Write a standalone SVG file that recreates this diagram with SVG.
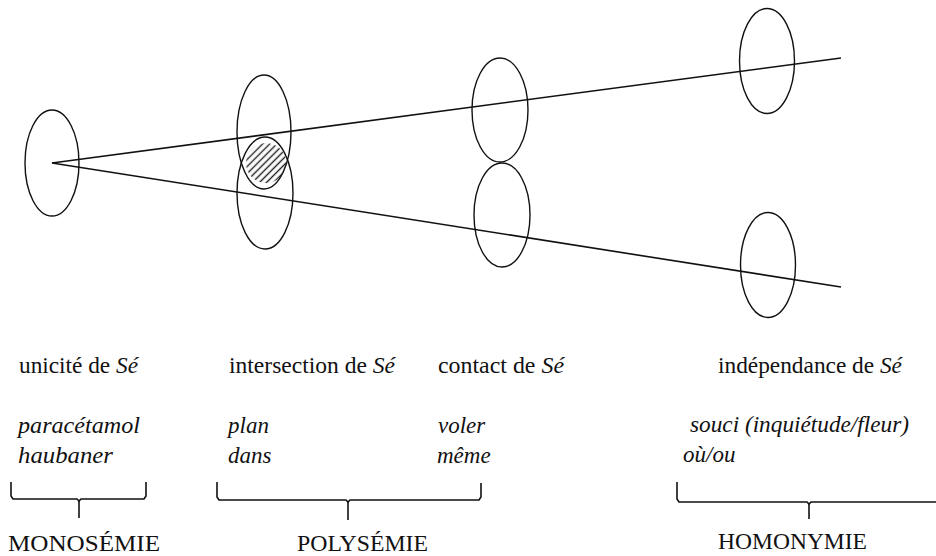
<svg xmlns="http://www.w3.org/2000/svg" width="936" height="556" viewBox="0 0 936 556">
  <style>
    .sense { fill: none; stroke: #111; stroke-width: 1.4; }
    .ray { fill: none; stroke: #111; stroke-width: 1.6; }
    .brace { fill: none; stroke: #111; stroke-width: 1.6; stroke-linejoin: miter; }
    text { font-family: "Liberation Serif", "Times New Roman", serif; font-size: 23px; fill: #111; }
    .ex { font-style: italic; }
  </style>
  <defs>
    <pattern id="hatch" width="5" height="5" patternUnits="userSpaceOnUse" patternTransform="rotate(-45)">
      <line x1="0" y1="2.5" x2="5" y2="2.5" stroke="#222" stroke-width="1.4"/>
    </pattern>
  </defs>

  <rect width="936" height="556" fill="#fff"/>

  <!-- the two meaning axes diverging from the single sense -->
  <g id="connectors">
    <line class="ray" x1="52" y1="163" x2="841" y2="58"/>
    <line class="ray" x1="52" y1="163" x2="841" y2="287"/>
  </g>

  <!-- monosemy: one sense -->
  <g id="mono-sense">
    <ellipse class="sense" cx="52" cy="163" rx="27" ry="53"/>
  </g>

  <!-- polysemy: two overlapping senses with shared zone -->
  <g id="poly-sense-a">
    <ellipse class="sense" cx="264" cy="132" rx="27" ry="57"/>
  </g>
  <g id="poly-sense-b">
    <ellipse class="sense" cx="265" cy="193" rx="28" ry="56"/>
  </g>
  <g id="poly-overlap">
    <circle cx="266" cy="163" r="20" fill="url(#hatch)"/>
  </g>

  <!-- contact: two touching senses -->
  <g id="contact-sense-a">
    <ellipse class="sense" cx="500" cy="110" rx="28" ry="52"/>
  </g>
  <g id="contact-sense-b">
    <ellipse class="sense" cx="502" cy="215" rx="28" ry="52"/>
  </g>

  <!-- homonymy: two separate senses -->
  <g id="homo-sense-a">
    <ellipse class="sense" cx="767" cy="61" rx="27.5" ry="52.5"/>
  </g>
  <g id="homo-sense-b">
    <ellipse class="sense" cx="768" cy="265" rx="27.5" ry="52.5"/>
  </g>

  <!-- column headings -->
  <g id="headings">
    <text x="19" y="373" textLength="119" lengthAdjust="spacingAndGlyphs">unicité de <tspan class="ex">Sé</tspan></text>
    <text x="229" y="373" textLength="166" lengthAdjust="spacingAndGlyphs">intersection de <tspan class="ex">Sé</tspan></text>
    <text x="438" y="373" textLength="126" lengthAdjust="spacingAndGlyphs">contact  de <tspan class="ex">Sé</tspan></text>
    <text x="718" y="373" textLength="184" lengthAdjust="spacingAndGlyphs">indépendance de <tspan class="ex">Sé</tspan></text>
  </g>

  <!-- examples -->
  <g id="examples">
    <text class="ex" x="18" y="433" textLength="122" lengthAdjust="spacingAndGlyphs">paracétamol</text>
    <text class="ex" x="18" y="463" textLength="95" lengthAdjust="spacingAndGlyphs">haubaner</text>
    <text class="ex" x="228" y="433">plan</text>
    <text class="ex" x="228" y="463">dans</text>
    <text class="ex" x="438" y="433">voler</text>
    <text class="ex" x="437" y="463">même</text>
    <text class="ex" x="690" y="432" textLength="219" lengthAdjust="spacingAndGlyphs">souci (inquiétude/fleur)</text>
    <text class="ex" x="683" y="462">où/ou</text>
  </g>

  <!-- grouping braces -->
  <g id="brace-mono">
    <path class="brace" d="M11 482 V496 L13 499 H77 L79 501 L81 499 H144 L146 496 V482"/>
    <path class="brace" d="M79 501 V518"/>
    <text x="8" y="551" textLength="152" lengthAdjust="spacingAndGlyphs">MONOSÉMIE</text>
  </g>
  <g id="brace-poly">
    <path class="brace" d="M217 482 V497 L219 500 H346 L348 502 L350 500 H479 L481 497 V483"/>
    <path class="brace" d="M348 502 V520"/>
    <text x="297" y="551" textLength="131" lengthAdjust="spacingAndGlyphs">POLYSÉMIE</text>
  </g>
  <g id="brace-homo">
    <path class="brace" d="M677 482 V499 L679 502 H807 L809 504 L811 502 H940"/>
    <path class="brace" d="M809 504 V519"/>
    <text x="718" y="549" textLength="149" lengthAdjust="spacingAndGlyphs">HOMONYMIE</text>
  </g>
</svg>
